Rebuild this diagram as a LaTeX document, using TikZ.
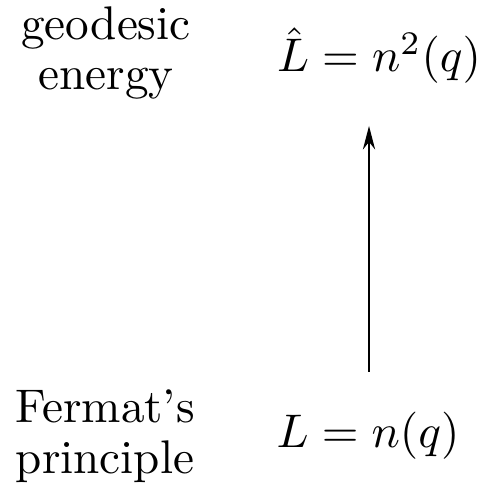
\documentclass[tikz,border=0pt]{standalone}
\usetikzlibrary{arrows.meta}
\begin{document}
\begin{tikzpicture}[x=0.2119pt,y=-0.2119pt,
  lbl/.style={anchor=base,inner sep=0pt},
  mlbl/.style={anchor=base,inner sep=0pt,font=\fontsize{10.4}{12.5}\selectfont},
  conn/.style={-{Stealth[length=5pt,width=2.6pt]},line width=0.3pt}]
\useasboundingbox (0,0) rectangle (490,500);
\node[lbl] (geo1) at (106,40) {geodesic};
\node[lbl] (geo2) at (106,90) {energy};
\node[lbl] (fer1) at (105,423) {Fermat's};
\node[lbl] (fer2) at (105,473) {principle};
\node[mlbl] (top) at (379,72) {$\hat{L}=n^2(q)$};
\node[mlbl] (bot) at (368,447) {$L=n(q)$};
\coordinate (s) at (369,372);
\coordinate (e) at (369,126);
\draw[conn] (s) -- (e);
\end{tikzpicture}
\end{document}
